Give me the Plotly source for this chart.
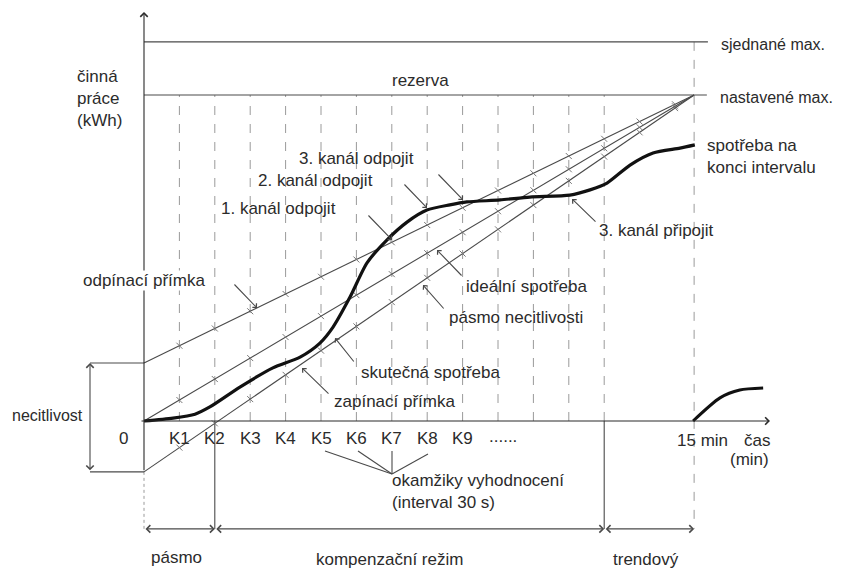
import plotly.graph_objects as go

# ---------------- data (diagram units: x = evaluation moments K (30 s), y = active energy, set max = 10) -------------
k_labels = ["K1", "K2", "K3", "K4", "K5", "K6", "K7", "K8", "K9"]
k_label_pos = [1, 2, 3, 4, 5, 6, 7, 8, 9]
grid_moments = [1, 2, 3, 4, 5, 6, 7, 8, 9, 10, 11, 12, 13]
t_end = 15.54            # 15 min
set_max = 10.0           # nastavené max.
contract_max = 11.63     # sjednané max.
off_line_start = 1.78    # odpínací přímka at t = 0
ideal_start = 0.0        # ideální spotřeba at t = 0
on_line_start = -1.56    # zapínací přímka at t = 0
comp_start = 2           # K2 - start of compensation mode
trend_start = 13         # start of trend mode
mode_arrow_level = -3.31 # level of the mode range arrows

actual_x = [0.0, 0.82, 1.44, 1.86, 2.71, 3.64, 4.41, 4.97, 5.34, 5.82, 6.30, 6.86, 7.43, 7.99,
            8.64, 9.12, 10.06, 10.90, 12.03, 12.60, 13.08, 13.73, 14.38, 15.14, 15.56]
actual_y = [0.0, 0.09, 0.21, 0.43, 1.04, 1.63, 1.96, 2.39, 2.88, 3.80, 4.85, 5.55, 6.10, 6.47,
            6.63, 6.72, 6.78, 6.87, 6.93, 7.09, 7.30, 7.85, 8.22, 8.37, 8.47]
next_x = [15.51, 16.27, 16.83, 17.49]
next_y = [0.0, 0.71, 0.95, 1.01]

# ---------------- layout helpers ----------------
SX, SY, X0, Y0 = 35.4, 32.6, 144, 421
OFF = 8  # page body margin


def P(xp, yp):
    return (xp - X0) / SX, (Y0 - yp) / SY


INK = "#2b2b2b"
THIN = "#4a4a4a"
GRID = "#9a9a9a"
FONT = dict(family="Liberation Sans, Arial, sans-serif", size=17, color=INK)

fig = go.Figure()


def hline(x0, y0, x1, y1, color=THIN, width=1.1, dash=None):
    fig.add_shape(type="line", x0=x0, y0=y0, x1=x1, y1=y1, layer="below",
                  line=dict(color=color, width=width, dash=dash))


def arrow(xh, yh, xt, yt, side="end", head=4, size=1.3, color=THIN):
    fig.add_annotation(x=xh, y=yh, ax=xt, ay=yt, xref="x", yref="y", axref="x", ayref="y",
                       text="", showarrow=True, arrowhead=head, startarrowhead=head,
                       arrowside=side, arrowsize=size, startarrowsize=size,
                       arrowwidth=1.1, arrowcolor=color)


def label(xp, yp, text, anchor="left", bg=None, size=None):
    x, y = P(xp, yp)
    f = dict(FONT)
    if size:
        f["size"] = size
    fig.add_annotation(x=x, y=y, xref="x", yref="y", text=text, showarrow=False,
                       xanchor=anchor, yanchor="middle", align=anchor if anchor != "center" else "center",
                       font=f, bgcolor=bg, borderpad=0)


yb = mode_arrow_level

# dashed evaluation-moment lines
for k in grid_moments:
    hline(k, 0, k, set_max, color=GRID, width=1, dash="dash")
hline(t_end, contract_max, t_end, yb, color=GRID, width=1, dash="dash")

# max lines
hline(0, contract_max, t_end + 0.39, contract_max)
hline(0, set_max, t_end + 0.36, set_max)

# axes
arrow(0, P(0, 12)[1], 0, on_line_start, color=INK)
hline(0, on_line_start, 0, yb, color=GRID, width=1, dash="dot")
arrow(P(770, 0)[0], 0, P(140, 0)[0], 0, color=INK)

# insensitivity bracket
bx = P(90, 0)[0]
hline(bx, off_line_start, 0, off_line_start)
hline(bx, on_line_start, 0, on_line_start)
arrow(bx, off_line_start, bx, on_line_start, side="end+start")

# mode range arrows at the bottom
hline(comp_start, 0, comp_start, yb)
hline(trend_start, 0, trend_start, yb)
arrow(comp_start, yb, 0, yb, side="end+start")
arrow(trend_start, yb, comp_start, yb, side="end+start")
arrow(t_end, yb, trend_start, yb, side="end+start")

# straight control lines converging at set max at the end of the interval
for start in (off_line_start, ideal_start, on_line_start):
    fig.add_trace(go.Scatter(x=[0, t_end], y=[start, set_max], mode="lines",
                             line=dict(color=THIN, width=1.1), hoverinfo="skip", showlegend=False))
    tk = [k for k in range(1, 16)]
    fig.add_trace(go.Scatter(x=tk, y=[start + (set_max - start) * k / t_end for k in tk], mode="markers",
                             marker=dict(symbol="line-nw", size=6, line=dict(color="#777777", width=1)),
                             hoverinfo="skip", showlegend=False))

# actual consumption
fig.add_trace(go.Scatter(x=actual_x, y=actual_y, mode="lines",
                         line=dict(color="#111111", width=3.2, shape="spline", smoothing=0.7),
                         hoverinfo="skip", showlegend=False))
fig.add_trace(go.Scatter(x=next_x, y=next_y, mode="lines",
                         line=dict(color="#111111", width=3, shape="spline", smoothing=0.7),
                         hoverinfo="skip", showlegend=False))

# pointer arrows of labels
for (hx, hy, tx, ty) in [(257, 308, 233, 283), (392, 240, 367, 214), (427, 208, 403, 183),
                         (463, 200, 437, 173), (572, 199, 597, 223), (437, 250, 463, 277),
                         (423, 285, 445, 310), (335, 338, 355, 363), (302, 368, 330, 395)]:
    h = P(hx, hy)
    t = P(tx, ty)
    arrow(h[0], h[1], t[0], t[1], size=1.0)

# pointer lines to evaluation moments
tip = P(392, 474)
for (sx, sy) in [(325, 451), (358, 451), (392, 451), (428, 454)]:
    s = P(sx, sy)
    hline(s[0], s[1], tip[0], tip[1])

# texts
label(76, 98, "činná<br>práce<br>(kWh)")
label(420, 80, "rezerva", "center")
label(720, 44, "sjednané max.", size=16)
label(719, 97, "nastavené max.", size=16)
label(706, 156, "spotřeba na<br>konci intervalu")
label(298, 158, "3. kanál odpojit")
label(257, 180, "2. kanál odpojit")
label(220, 208, "1. kanál odpojit")
label(598, 230, "3. kanál připojit")
label(82, 280, "odpínací přímka", bg="white")
label(465, 286, "ideální spotřeba")
label(448, 317, "pásmo necitlivosti")
label(360, 372, "skutečná spotřeba")
label(333, 401, "zapínací přímka")
label(84, 415, "necitlivost", "right", size=16)
label(123, 438, "0", "center")
for pos, txt in zip(k_label_pos, k_labels):
    fig.add_annotation(x=pos, y=P(0, 438)[1], xref="x", yref="y", text=txt, showarrow=False,
                       xanchor="center", yanchor="middle", font=FONT)
label(503, 436, "......", "center")
label(702, 440, "15 min", "center")
label(757, 440, "čas", "center")
label(749, 459, "(min)", "center")
label(391, 491, "okamžiky vyhodnocení<br>(interval 30 s)")
label(176, 557, "pásmo", "center")
label(389, 559, "kompenzační režim", "center")
label(646, 559, "trendový", "center")

fig.update_layout(
    width=843, height=570, autosize=False,
    margin=dict(l=0, r=0, t=0, b=0),
    paper_bgcolor="white", plot_bgcolor="white",
    xaxis=dict(range=[P(OFF, 0)[0], P(843 + OFF, 0)[0]], visible=False, fixedrange=True),
    yaxis=dict(range=[P(0, 570 + OFF)[1], P(0, OFF)[1]], visible=False, fixedrange=True),
    showlegend=False,
)

fig.write_html("out.html")
